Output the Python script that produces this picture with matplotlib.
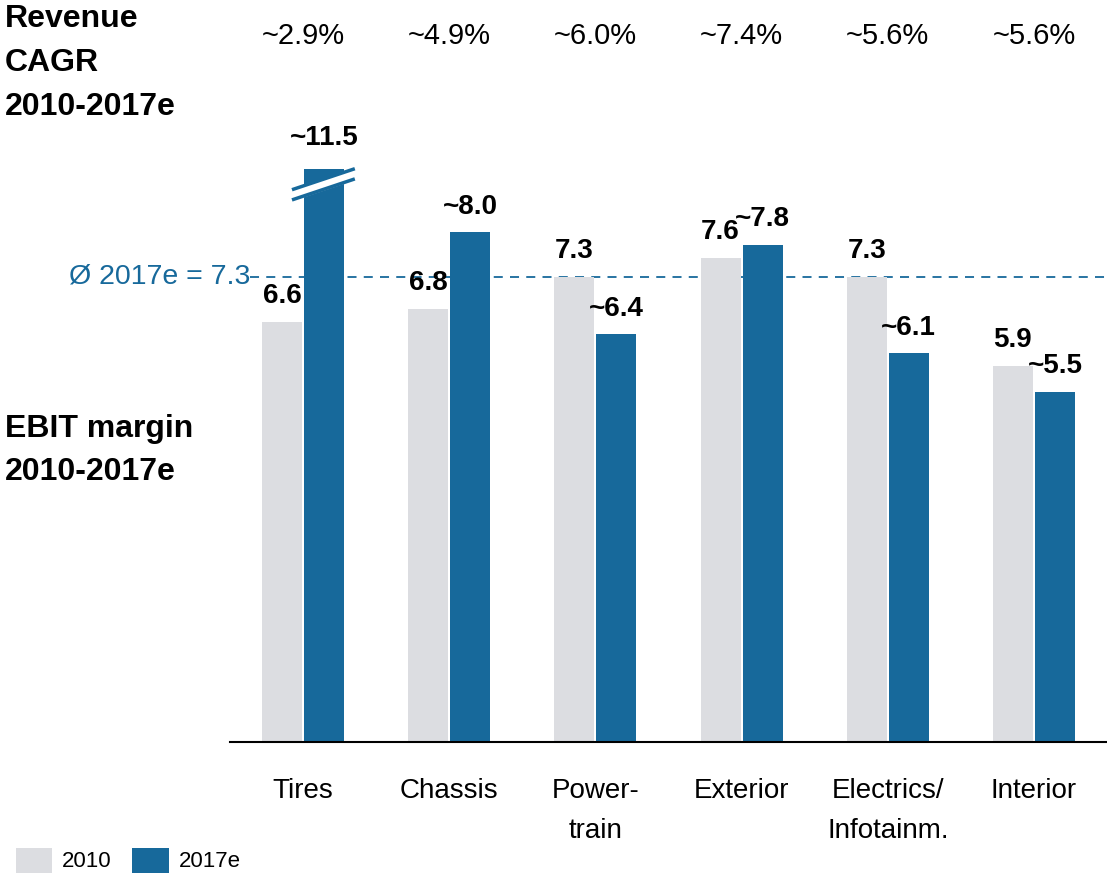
import numpy as np
import matplotlib.pyplot as plt
from matplotlib.transforms import blended_transform_factory

plt.rcParams['font.family'] = ['Liberation Sans', 'DejaVu Sans']

categories = ['Tires', 'Chassis', 'Power-\ntrain', 'Exterior', 'Electrics/\nInfotainm.', 'Interior']
cagr = ['~2.9%', '~4.9%', '~6.0%', '~7.4%', '~5.6%', '~5.6%']
ebit_2010 = [6.6, 6.8, 7.3, 7.6, 7.3, 5.9]
ebit_2017 = [11.5, 8.0, 6.4, 7.8, 6.1, 5.5]
labels_2010 = ['6.6', '6.8', '7.3', '7.6', '7.3', '5.9']
labels_2017 = ['~11.5', '~8.0', '~6.4', '~7.8', '~6.1', '~5.5']
avg_2017 = 7.3
cap = 9.0  # axis break for the tall Tires bar

grey = '#DCDDE1'
blue = '#17699B'

fig = plt.figure(figsize=(11.07, 8.75), dpi=100)
ax = fig.add_axes([230 / 1107, 1 - 742 / 875, 1 - 230 / 1107, 637 / 875])

x = np.arange(len(categories))
w = 0.274
off = 0.144
shown_2017 = [min(v, cap) for v in ebit_2017]
ax.bar(x - off, ebit_2010, w, color=grey, label='2010')
ax.bar(x + off, shown_2017, w, color=blue, label='2017e')

for i in range(len(x)):
    ax.text(x[i] - off, ebit_2010[i] + 0.2, labels_2010[i], ha='center', va='bottom',
            fontsize=20, fontweight='bold')
    extra = 0.28 if ebit_2017[i] > cap else 0.2
    ax.text(x[i] + off, shown_2017[i] + extra, labels_2017[i], ha='center', va='bottom',
            fontsize=20, fontweight='bold')

# break marks on the capped bar
for i, v in enumerate(ebit_2017):
    if v > cap:
        xs = np.array([x[i] + off - 0.22, x[i] + off + 0.21])
        y_hi = np.array([cap - 0.33, cap])
        y_lo = y_hi - 0.16
        ax.fill_between(xs, y_lo, y_hi, color='white', zorder=3)
        ax.plot(xs, y_hi, color=blue, lw=2.5, zorder=4, solid_capstyle='butt')
        ax.plot(xs, y_lo, color=blue, lw=2.5, zorder=4, solid_capstyle='butt')

# average line
ax.axhline(avg_2017, xmin=20 / 877, color=blue, lw=1.3, ls=(0, (5, 4)), zorder=0.5)
ax.text(-0.5 + 20 / 146, avg_2017, 'Ø 2017e = 7.3', color=blue, fontsize=20.5,
        ha='right', va='center', clip_on=False)

# CAGR row
tr = blended_transform_factory(ax.transData, fig.transFigure)
for i, c in enumerate(cagr):
    ax.text(x[i], 1 - 36 / 875, c, transform=tr, ha='center', va='center', fontsize=21)

fig.text(5 / 1107, 1 - 4 / 875, 'Revenue\nCAGR\n2010-2017e', ha='left', va='top',
         fontsize=23, fontweight='bold', linespacing=1.6)
fig.text(5 / 1107, 1 - 414 / 875, 'EBIT margin\n2010-2017e', ha='left', va='top',
         fontsize=23, fontweight='bold', linespacing=1.55)

ax.set_xlim(-0.5, 5.5)
ax.set_ylim(0, 10)
ax.set_xticks(x)
ax.set_xticklabels(categories, fontsize=20, linespacing=1.7)
ax.tick_params(axis='x', length=0, pad=26)
ax.set_yticks([])
for s in ['top', 'right', 'left']:
    ax.spines[s].set_visible(False)
ax.spines['bottom'].set_linewidth(1.5)

fig.legend(loc='lower left', bbox_to_anchor=(-0.004, -0.02), ncol=2, frameon=False,
           fontsize=16, handlelength=1.65, handleheight=1.35, columnspacing=0.9,
           handletextpad=0.45)

fig.savefig('out.png', dpi=100)
